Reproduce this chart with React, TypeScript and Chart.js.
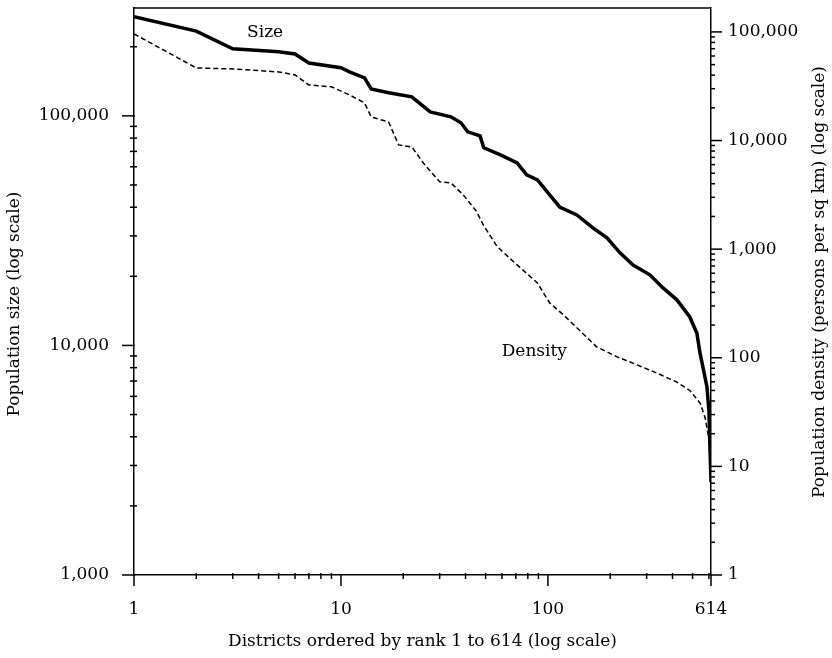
import React, { useEffect, useRef } from "react";
import { Chart, registerables } from "chart.js";

Chart.register(...registerables);

// ---- Data ----
const sizeRanks = [1, 2, 3, 5, 6, 7, 10, 11, 13, 14, 17, 22, 27, 34, 38, 41, 47, 49, 59, 71, 79, 89, 102, 114, 138, 165, 193, 223, 258, 311, 360, 420, 485, 525, 542, 561, 587, 600, 607, 614];
const sizeValues = [270000, 234000, 196000, 190000, 186000, 170000, 162000, 155500, 146500, 131000, 126000, 121000, 104000, 99000, 93300, 85200, 81800, 72600, 67600, 62400, 55300, 52600, 45300, 40100, 37000, 32500, 29400, 25300, 22400, 20300, 17800, 15800, 13300, 11300, 9370, 8060, 6590, 5200, 3600, 2540];

const densityRanks = [1, 2, 3, 5, 6, 7, 9, 11, 13, 14, 17, 19, 22, 25, 30, 34, 39, 45, 49, 57, 71, 89, 102, 119, 143, 172, 216, 270, 338, 418, 485, 545, 575, 600, 614];
const densityValues = [95900, 46600, 45600, 42800, 40200, 32500, 31200, 26300, 22200, 16500, 14800, 9110, 8730, 6220, 4160, 4070, 3160, 2250, 1640, 1050, 716, 488, 320, 248, 177, 126, 102, 86, 72, 60, 50, 38, 28, 18, 7.5];

const xTickValues = [1, 10, 100, 614];
const leftTickValues = [1000, 10000, 100000];
const rightTickValues = [1, 10, 100, 1000, 10000, 100000];

const xTitle = "Districts ordered by rank 1 to 614 (log scale)";
const leftTitle = "Population size (log scale)";
const rightTitle = "Population density (persons per sq km) (log scale)";
const sizeLabel = "Size";
const densityLabel = "Density";

const FONT = '"DejaVu Serif", serif';

function minorsBetween(lo: number, hi: number): number[] {
  const out: number[] = [];
  for (let d = 1; d < hi; d *= 10) {
    for (let k = 2; k <= 9; k++) {
      const v = k * d;
      if (v > lo && v < hi) out.push(v);
    }
  }
  return out;
}

const decorPlugin = {
  id: "decor",
  afterDraw(chart: any) {
    const { ctx, chartArea: ca, scales } = chart;
    const x = scales.x, yL = scales.yL, yR = scales.yR;
    const line = (x1: number, y1: number, x2: number, y2: number) => {
      ctx.beginPath();
      ctx.moveTo(x1, y1);
      ctx.lineTo(x2, y2);
      ctx.stroke();
    };
    ctx.save();
    ctx.strokeStyle = "#000";
    ctx.lineWidth = 1.5;
    // top frame line
    line(ca.left, ca.top, ca.right, ca.top);
    // left axis ticks
    for (const v of leftTickValues) {
      const p = yL.getPixelForValue(v);
      line(ca.left - 12, p, ca.left + 1, p);
    }
    for (const v of minorsBetween(yL.min, yL.max)) {
      const p = yL.getPixelForValue(v);
      line(ca.left - 4, p, ca.left + 3, p);
    }
    // right axis ticks
    for (const v of rightTickValues) {
      const p = yR.getPixelForValue(v);
      line(ca.right - 1, p, ca.right + 11, p);
    }
    for (const v of minorsBetween(yR.min, yR.max)) {
      const p = yR.getPixelForValue(v);
      line(ca.right - 1, p, ca.right + 4, p);
    }
    // x axis ticks
    for (const v of xTickValues) {
      const p = x.getPixelForValue(v);
      line(p, ca.bottom - 1, p, ca.bottom + 11);
    }
    for (const v of minorsBetween(x.min, x.max)) {
      const p = x.getPixelForValue(v);
      line(p, ca.bottom - 2, p, ca.bottom + 4);
    }
    // titles
    ctx.fillStyle = "#000";
    ctx.font = "17px " + FONT;
    ctx.textAlign = "center";
    ctx.textBaseline = "middle";
    ctx.fillText(xTitle, (ca.left + ca.right) / 2, 642);
    ctx.save();
    ctx.translate(15, 304);
    ctx.rotate(-Math.PI / 2);
    ctx.fillText(leftTitle, 0, 0);
    ctx.restore();
    ctx.save();
    ctx.translate(820, 282);
    ctx.rotate(-Math.PI / 2);
    ctx.fillText(rightTitle, 0, 0);
    ctx.restore();
    // series labels
    ctx.fillText(sizeLabel, x.getPixelForValue(4.3), yL.getPixelForValue(230000));
    ctx.fillText(densityLabel, x.getPixelForValue(86), yR.getPixelForValue(113));
    ctx.restore();
  },
};

export default function App() {
  const ref = useRef<HTMLCanvasElement | null>(null);
  useEffect(() => {
    if (!ref.current) return;
    Chart.defaults.color = "#000";
    Chart.defaults.font.family = FONT;
    const chart = new Chart(ref.current, {
      type: "line",
      data: {
        datasets: [
          {
            label: sizeLabel,
            data: sizeRanks.map((r, i) => ({ x: r, y: sizeValues[i] })),
            yAxisID: "yL",
            borderColor: "#000",
            borderWidth: 3.5,
            pointRadius: 0,
            tension: 0,
            fill: false,
          },
          {
            label: densityLabel,
            data: densityRanks.map((r, i) => ({ x: r, y: densityValues[i] })),
            yAxisID: "yR",
            borderColor: "#000",
            borderWidth: 1.5,
            borderDash: [5, 3],
            pointRadius: 0,
            tension: 0,
            fill: false,
          },
        ],
      },
      options: {
        animation: false,
        responsive: false,
        maintainAspectRatio: false,
        layout: { padding: { top: 8, left: 0, right: 0, bottom: 0 } },
        plugins: { legend: { display: false }, tooltip: { enabled: false } },
        scales: {
          x: {
            type: "logarithmic",
            min: 1,
            max: 614,
            grid: { display: false, drawTicks: false },
            border: { display: true, color: "#000", width: 1.5 },
            afterBuildTicks: (s: any) => {
              s.ticks = xTickValues.map((value) => ({ value }));
            },
            afterFit: (s: any) => {
              s.height = 83;
              s.paddingLeft = 0;
              s.paddingRight = 0;
            },
            ticks: {
              autoSkip: false,
              maxRotation: 0,
              padding: 24,
              font: { size: 17, family: FONT },
              callback: (v: any) => Number(v).toLocaleString("en-US"),
            },
          },
          yL: {
            type: "logarithmic",
            position: "left",
            min: 1000,
            max: 295000,
            grid: { display: false, drawTicks: false },
            border: { display: true, color: "#000", width: 1.5 },
            afterBuildTicks: (s: any) => {
              s.ticks = leftTickValues.map((value) => ({ value }));
            },
            afterFit: (s: any) => {
              s.width = 134;
              s.paddingTop = 0;
              s.paddingBottom = 0;
            },
            ticks: {
              autoSkip: false,
              padding: 25,
              font: { size: 17, family: FONT },
              callback: (v: any) => Number(v).toLocaleString("en-US"),
            },
          },
          yR: {
            type: "logarithmic",
            position: "right",
            min: 1,
            max: 166000,
            grid: { display: false, drawTicks: false },
            border: { display: true, color: "#000", width: 1.5 },
            afterBuildTicks: (s: any) => {
              s.ticks = rightTickValues.map((value) => ({ value }));
            },
            afterFit: (s: any) => {
              s.width = 121;
              s.paddingTop = 0;
              s.paddingBottom = 0;
            },
            ticks: {
              autoSkip: false,
              padding: 17,
              font: { size: 17, family: FONT },
              callback: (v: any) => Number(v).toLocaleString("en-US"),
            },
          },
        },
      },
      plugins: [decorPlugin],
    });
    return () => chart.destroy();
  }, []);
  return (
    <div style={{ position: "fixed", left: 0, top: 0, width: 832, height: 658, background: "#fff" }}>
      <canvas ref={ref} width={832} height={658} />
    </div>
  );
}
